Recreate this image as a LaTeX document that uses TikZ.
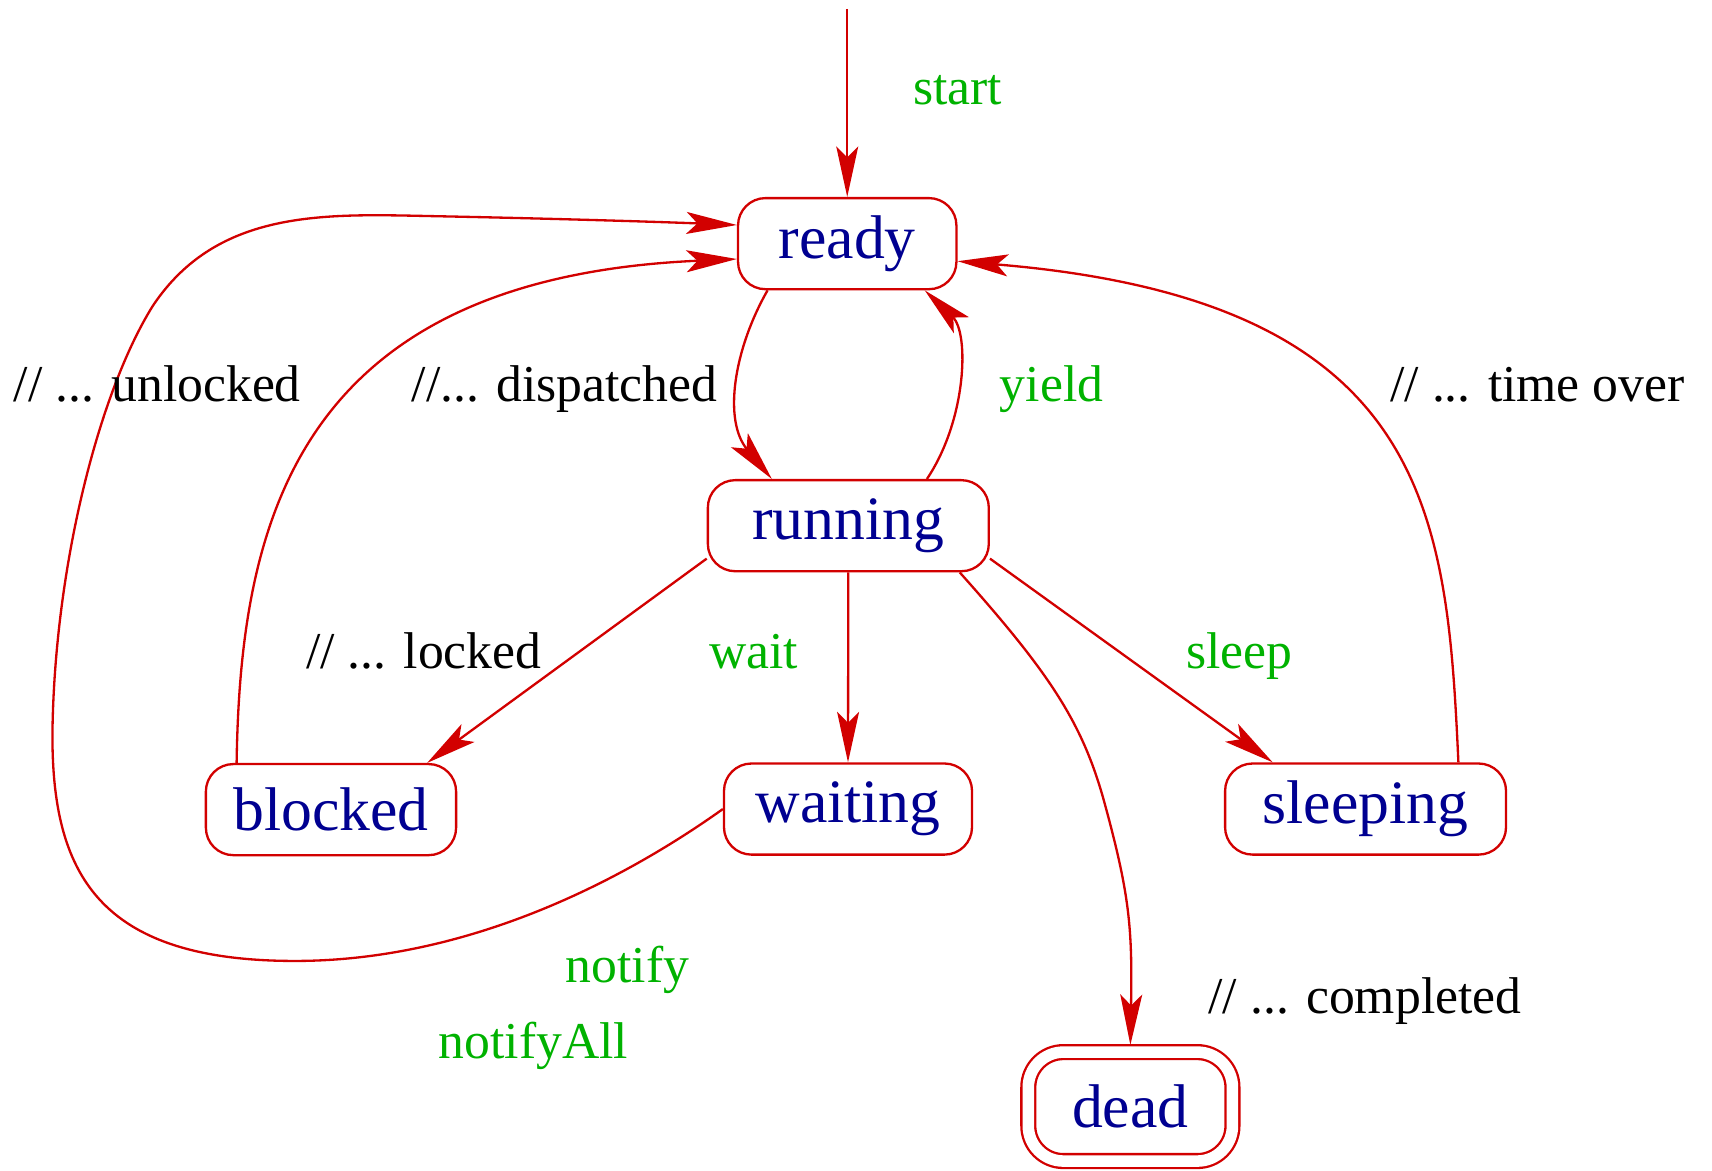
\documentclass[tikz,border=0pt]{standalone}
\usepackage{fontspec}
\setmainfont{Liberation Serif}
\usetikzlibrary{arrows.meta}
\definecolor{figred}{RGB}{210,0,0}
\definecolor{figblue}{RGB}{0,0,145}
\definecolor{figgreen}{RGB}{0,178,0}
\tikzset{
  state/.style = {shape=rectangle, rounded corners=0.25cm,
                  draw=figred, line width=0.6pt, align=center,
                  minimum height=0.83cm, inner xsep=0pt,
                  text=figblue, font=\fontsize{16}{18}\selectfont},
  final/.style = {state, double, double distance=0.105cm,
                  rounded corners=0.32cm, outer sep=0.065cm},
  trans/.style = {draw=figred, line width=0.6pt,
                  -{Stealth[length=0.46cm,width=0.2cm,inset=0.1cm]}},
  event/.style = {anchor=base, text=figgreen, font=\fontsize{13.4}{15}\selectfont},
  note/.style  = {event, text=black}
}
\begin{document}
\begin{tikzpicture}[line join=round]
  \useasboundingbox (0,0) rectangle (15.6,-10.67);
  \node [state, minimum width=1.99cm] (ready)    at (7.72,-2.22)   {ready};
  \node [state, minimum width=2.56cm] (running)  at (7.73,-4.79)   {running};
  \node [state, minimum width=2.28cm] (blocked)  at (3.016,-7.377) {blocked};
  \node [state, minimum width=2.26cm] (waiting)  at (7.727,-7.372) {waiting};
  \node [state, minimum width=2.56cm] (sleeping) at (12.443,-7.372) {sleeping};
  \node [final, minimum width=1.86cm, minimum height=0.993cm] (dead) at (10.30,-10.083) {dead};
  \coordinate (init) at (7.72,-0.08);

  \draw [trans] (init) -- (ready.north);
  \draw [trans] ([xshift=-0.726cm]ready.south) .. controls (6.686,-3.184) and (6.587,-3.831) .. ([xshift=-0.697cm]running.north);
  \draw [trans] ([xshift=0.716cm]running.north) .. controls (8.806,-3.831) and (8.836,-3.035) .. ([xshift=0.706cm]ready.south);
  \draw [trans] ([yshift=-0.30cm]running.west) -- ([xshift=0.876cm]blocked.north);
  \draw [trans] (running.south) -- (waiting.north);
  \draw [trans] ([yshift=-0.30cm]running.east) -- ([xshift=-0.846cm]sleeping.north);
  \draw [trans] ([xshift=1.015cm]running.south) .. controls (9.552,-6.119) and (9.851,-6.567) .. (10.05,-7.264)
                .. controls (10.298,-8.159) and (10.318,-8.458) .. (dead.north);
  \draw [trans] ([xshift=-0.86cm]blocked.north) .. controls (2.189,-4.776) and (2.687,-2.537) .. ([yshift=-0.14cm]ready.west);
  \draw [trans] (waiting.west) .. controls (5.97,-7.811) and (4.478,-8.756) .. (2.687,-8.756)
                .. controls (0.896,-8.756) and (0.468,-7.96) .. (0.478,-6.667)
                .. controls (0.498,-5.174) and (0.896,-3.582) .. (1.393,-2.786)
                .. controls (1.99,-1.891) and (2.985,-1.95) .. (3.98,-1.97)
                .. controls (4.975,-1.99) and (5.97,-2.02) .. ([yshift=0.17cm]ready.west);
  \draw [trans] ([xshift=0.846cm]sleeping.north) .. controls (13.184,-4.677) and (13.035,-2.736) .. ([yshift=-0.16cm]ready.east);

  \node [event] (startlbl)      at (8.726,-0.955) {start};
  \node [note]  (unlockedlbl)   at (1.433,-3.662) {// ... unlocked};
  \node [note]  (dispatchedlbl) at (5.144,-3.662) {//... dispatched};
  \node [event] (yieldlbl)      at (9.582,-3.662) {yield};
  \node [note]  (timelbl)       at (14.01,-3.662) {// ... time over};
  \node [note]  (lockedlbl)     at (3.861,-6.089) {// ... locked};
  \node [event] (waitlbl)       at (6.866,-6.089) {wait};
  \node [event] (sleeplbl)      at (11.293,-6.089) {sleep};
  \node [event] (notifylbl)     at (5.718,-8.95)  {notify};
  \node [event] (notifyalllbl)  at (4.862,-9.645) {notifyAll};
  \node [note]  (completedlbl)  at (12.438,-9.234) {// ... completed};
\end{tikzpicture}
\end{document}
